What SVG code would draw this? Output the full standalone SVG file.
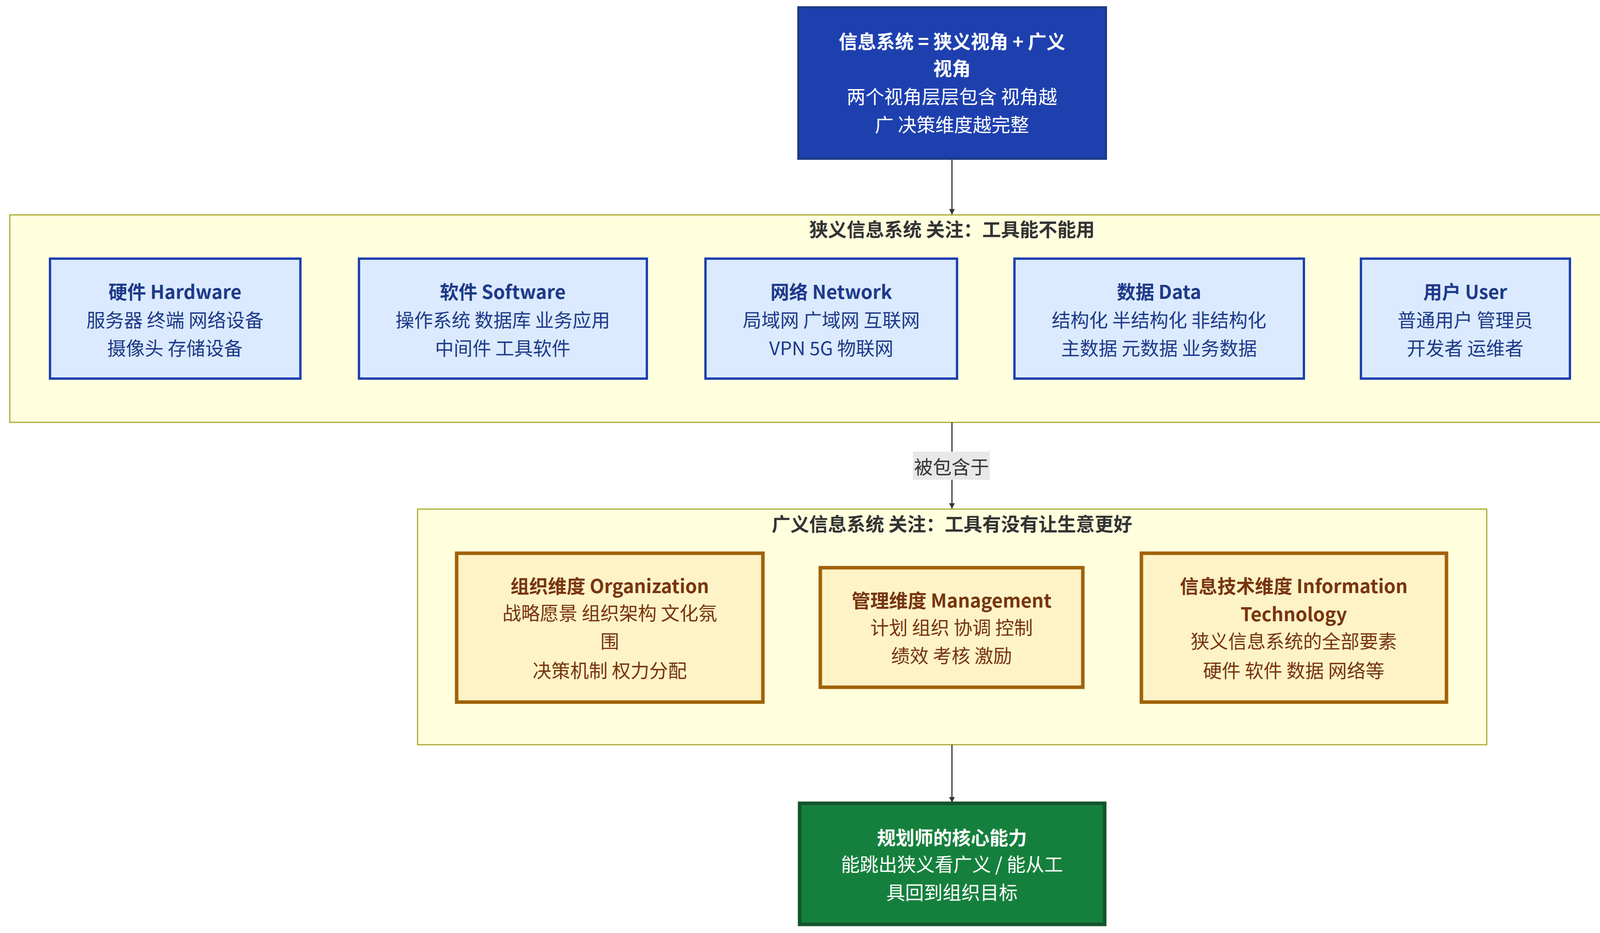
<svg xmlns="http://www.w3.org/2000/svg" width="4875" height="2388" viewBox="0 0 4875 2388">
<defs>
<marker id="ah" viewBox="0 0 10 10" refX="9" refY="5" markerWidth="5" markerHeight="5" orient="auto" markerUnits="strokeWidth"><path d="M0,0L10,5L0,10z" fill="#333"/></marker>
<style>
text{font-family:"Noto Sans CJK SC","Noto Sans",sans-serif;font-size:48px;text-anchor:middle;dominant-baseline:central}
.cl{fill:#ffffde;stroke:#aaaa33;stroke-width:3}
.ct{fill:#333;font-weight:bold}
.bn rect{fill:#dbeafe;stroke:#1e40af;stroke-width:6}
.bn text{fill:#1e3a8a}
.on rect{fill:#fef3c7;stroke:#a16207;stroke-width:9}
.on text{fill:#78350f}
.b{font-weight:bold}
.e{stroke:#333;stroke-width:3;fill:none;marker-end:url(#ah)}
</style>
</defs>
<rect width="4875" height="2388" fill="#fff"/>
<g id="narrow-cluster"><rect class="cl" x="25" y="550" width="4825" height="531"/><text class="ct" x="2437" y="584">狭义信息系统 关注：工具能不能用</text></g>
<g id="broad-cluster"><rect class="cl" x="1069" y="1303" width="2737" height="603"/><text class="ct" x="2437" y="1338">广义信息系统 关注：工具有没有让生意更好</text></g>
<g id="connectors">
<path class="e" d="M2437,406V548"/>
<path class="e" d="M2437,1081V1301"/>
<path class="e" d="M2437,1906V2053"/>
<g id="edge-label"><rect x="2337" y="1156" width="197" height="72" fill="#e8e8e8"/><text x="2436" y="1192" fill="#333">被包含于</text></g>
</g>
<g id="top"><rect x="2044" y="19" width="787" height="387" fill="#1e40af" stroke="#1e3a8a" stroke-width="6"/>
<text fill="#fff"><tspan class="b" x="2437" y="103">信息系统 = 狭义视角 + 广义</tspan><tspan class="b" x="2437" y="172">视角</tspan><tspan x="2437" y="244">两个视角层层包含 视角越</tspan><tspan x="2437" y="316">广 决策维度越完整</tspan></text></g>
<g id="hw" class="bn"><rect x="128" y="662" width="641" height="307"/><text><tspan class="b" x="448" y="744">硬件 Hardware</tspan><tspan x="448" y="816">服务器 终端 网络设备</tspan><tspan x="448" y="888">摄像头 存储设备</tspan></text></g>
<g id="sw" class="bn"><rect x="919" y="662" width="737" height="307"/><text><tspan class="b" x="1287" y="744">软件 Software</tspan><tspan x="1287" y="816">操作系统 数据库 业务应用</tspan><tspan x="1287" y="888">中间件 工具软件</tspan></text></g>
<g id="net" class="bn"><rect x="1806" y="662" width="644" height="307"/><text><tspan class="b" x="2128" y="744">网络 Network</tspan><tspan x="2128" y="816">局域网 广域网 互联网</tspan><tspan x="2128" y="888">VPN 5G 物联网</tspan></text></g>
<g id="data" class="bn"><rect x="2597" y="662" width="741" height="307"/><text><tspan class="b" x="2967" y="744">数据 Data</tspan><tspan x="2967" y="816">结构化 半结构化 非结构化</tspan><tspan x="2967" y="888">主数据 元数据 业务数据</tspan></text></g>
<g id="user" class="bn"><rect x="3484" y="662" width="535" height="307"/><text><tspan class="b" x="3751" y="744">用户 User</tspan><tspan x="3751" y="816">普通用户 管理员</tspan><tspan x="3751" y="888">开发者 运维者</tspan></text></g>
<g id="reg" class="bn"><rect x="4166" y="662" width="581" height="307"/><text><tspan class="b" x="4456" y="744">制度 Regulations</tspan><tspan x="4456" y="816">操作流程 应急预案</tspan><tspan x="4456" y="888">权限管理 安全规范</tspan></text></g>
<g id="org" class="on"><rect x="1169" y="1416" width="784" height="381"/><text><tspan class="b" x="1561" y="1497">组织维度 Organization</tspan><tspan x="1561" y="1566">战略愿景 组织架构 文化氛</tspan><tspan x="1561" y="1638">围</tspan><tspan x="1561" y="1713">决策机制 权力分配</tspan></text></g>
<g id="mgmt" class="on"><rect x="2100" y="1453" width="672" height="306"/><text><tspan class="b" x="2436" y="1534">管理维度 Management</tspan><tspan x="2436" y="1603">计划 组织 协调 控制</tspan><tspan x="2436" y="1675">绩效 考核 激励</tspan></text></g>
<g id="it" class="on"><rect x="2922" y="1416" width="781" height="381"/><text><tspan class="b" x="3312" y="1497">信息技术维度 Information</tspan><tspan class="b" x="3312" y="1569">Technology</tspan><tspan x="3312" y="1638">狭义信息系统的全部要素</tspan><tspan x="3312" y="1713">硬件 软件 数据 网络等</tspan></text></g>
<g id="core"><rect x="2047" y="2056" width="781" height="310" fill="#15803d" stroke="#14532d" stroke-width="9"/>
<text fill="#fff"><tspan class="b" x="2437" y="2141">规划师的核心能力</tspan><tspan x="2437" y="2209">能跳出狭义看广义 / 能从工</tspan><tspan x="2437" y="2281">具回到组织目标</tspan></text></g>
</svg>
